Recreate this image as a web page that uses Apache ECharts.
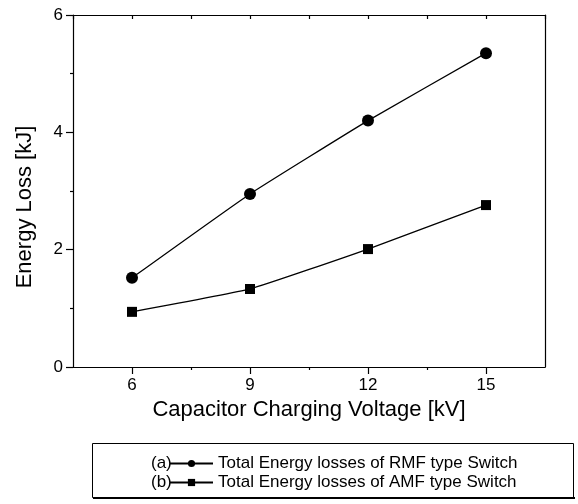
<!DOCTYPE html>
<html><head><meta charset="utf-8">
<script src="https://cdn.jsdelivr.net/npm/echarts@6/dist/echarts.min.js"></script>
<style>html,body{margin:0;padding:0;background:#fff}#c{width:578px;height:504px}</style>
</head><body><div id="c"></div>
<script>
const voltages = [6, 9, 12, 15];
const rmfLoss = [1.52, 2.95, 4.2, 5.35];
const amfLoss = [0.94, 1.33, 2.01, 2.76];
const xMajorTicks = [6, 9, 12, 15];
const xMinorTicks = [7.5, 10.5, 13.5];
const seriesNames = ['Total Energy losses of RMF type Switch', 'Total Energy losses of AMF type Switch'];
const seriesTags = ['(a)', '(b)'];
const xTitle = 'Capacitor Charging Voltage [kV]';
const yTitle = 'Energy Loss [kJ]';

const FONT = '"Liberation Sans", Arial, Helvetica, sans-serif';
const chart = echarts.init(document.getElementById('c'), null, {renderer: 'canvas'});
const line = {color: '#000', width: 1.2};
const pairs = (ys) => voltages.map((v, i) => [v, ys[i]]);

chart.setOption({
  animation: false,
  backgroundColor: '#fff',
  grid: {left: 73, right: 33, top: 15, bottom: 137},
  textStyle: {fontFamily: FONT, color: '#000'},
  xAxis: [
    {type: 'value', position: 'bottom', min: 4.5, max: 16.5, interval: 1.5,
     axisLine: {show: true, lineStyle: line},
     axisTick: {show: true, length: 7, lineStyle: line, customValues: xMajorTicks},
     axisLabel: {fontSize: 17, color: '#000', margin: 10, fontFamily: FONT, customValues: xMajorTicks},
     splitLine: {show: false},
     name: xTitle, nameLocation: 'middle', nameGap: 30,
     nameTextStyle: {fontSize: 22, color: '#000', fontFamily: FONT}},
    {type: 'value', position: 'bottom', min: 4.5, max: 16.5, interval: 1.5,
     axisLine: {show: false},
     axisTick: {show: true, length: 3, lineStyle: line, customValues: xMinorTicks},
     axisLabel: {show: false}, splitLine: {show: false}},
    {type: 'value', position: 'top', min: 4.5, max: 16.5, interval: 1.5,
     axisLine: {show: true, lineStyle: line},
     axisTick: {show: true, inside: true, length: 4, lineStyle: line},
     axisLabel: {show: false}, splitLine: {show: false}}
  ],
  yAxis: [
    {type: 'value', position: 'left', min: 0, max: 6, interval: 2,
     axisLine: {show: true, lineStyle: line},
     axisTick: {show: true, length: 7, lineStyle: line},
     minorTick: {show: true, splitNumber: 2, length: 3, lineStyle: line},
     axisLabel: {fontSize: 17, color: '#000', margin: 10, fontFamily: FONT},
     splitLine: {show: false}, minorSplitLine: {show: false}},
    {type: 'value', position: 'right', min: 0, max: 6, interval: 2,
     axisLine: {show: true, lineStyle: line},
     axisTick: {show: false}, axisLabel: {show: false}, splitLine: {show: false}}
  ],
  legend: {
    orient: 'vertical', left: 169, top: 454, padding: 0, itemGap: 0,
    itemWidth: 43, itemHeight: 9,
    textStyle: {fontSize: 17, color: '#000', fontFamily: FONT, lineHeight: 19},
    data: seriesNames
  },
  series: [
    {name: seriesNames[0], type: 'line', xAxisIndex: 0, yAxisIndex: 0, data: pairs(rmfLoss),
     smooth: 0.12, symbol: 'circle', symbolSize: 12,
     lineStyle: {color: '#000', width: 1.3}, itemStyle: {color: '#000'}},
    {name: seriesNames[1], type: 'line', xAxisIndex: 0, yAxisIndex: 0, data: pairs(amfLoss),
     smooth: 0.12, symbol: 'rect', symbolSize: 10,
     lineStyle: {color: '#000', width: 1.3}, itemStyle: {color: '#000'}}
  ],
  graphic: [
    {type: 'rect', shape: {x: 92.5, y: 443.5, width: 481, height: 54},
     style: {fill: 'none', stroke: '#000', lineWidth: 1}},
    {type: 'line', shape: {x1: 93, y1: 498, x2: 575, y2: 498},
     style: {stroke: '#000', lineWidth: 2}},
    {type: 'text', left: 151, top: 455,
     style: {text: seriesTags[0], font: '17px ' + FONT, fill: '#000'}},
    {type: 'text', left: 151, top: 474,
     style: {text: seriesTags[1], font: '17px ' + FONT, fill: '#000'}},
    {type: 'text', x: 25, y: 207, rotation: Math.PI / 2,
     style: {text: yTitle, font: '22px ' + FONT, fill: '#000', align: 'center', verticalAlign: 'middle'}}
  ]
});
</script></body></html>
